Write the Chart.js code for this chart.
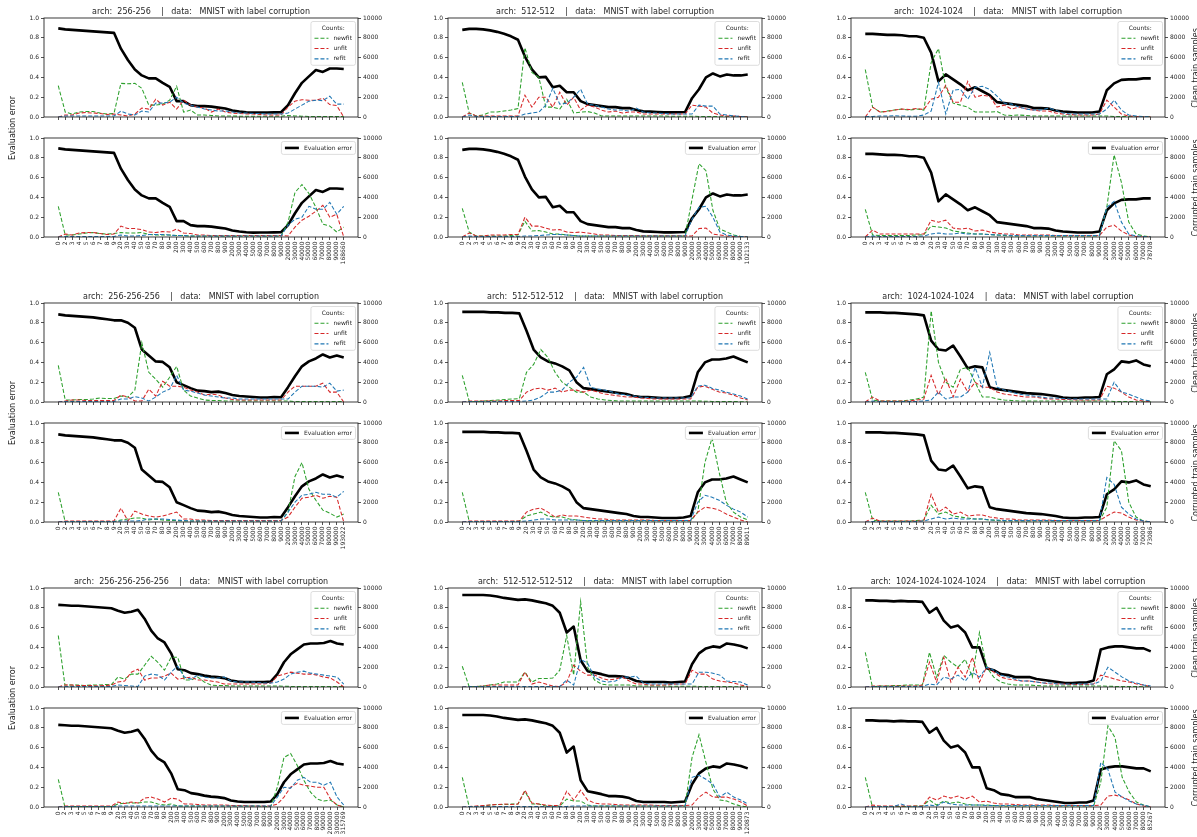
<!DOCTYPE html>
<html>
<head>
<meta charset="utf-8">
<script src="https://cdn.jsdelivr.net/npm/chart.js@4.4.0/dist/chart.umd.min.js"></script>
<style>
  html, body { margin: 0; padding: 0; background: #fff; width: 1197px; height: 837px; overflow: hidden; }
  #fig { position: relative; width: 1197px; height: 837px; overflow: hidden; background: #fff; }
  .sub { position: absolute; }
  .ylab { position: absolute; width: 200px; height: 10px; line-height: 10px; font: 8px "DejaVu Sans"; color: #222;
          text-align: center; white-space: pre; transform: rotate(-90deg); transform-origin: 50% 50%; }
</style>
</head>
<body>
<div id="fig"></div>
<script>
// ---- training-step tick labels (one list per architecture) ----
const steps256x2  = [0,2,3,4,5,6,7,8,9, 20,30,40,50,60,70,80,90, 200,300,400,500,600,700,800,900, 2000,3000,4000,5000,6000,7000,8000,9000, 20000,30000,40000,50000,60000,70000,80000,90000, 168660];
const steps512x2  = [0,2,3,4,5,6,7,8,9, 20,30,40,50,60,70,80,90, 200,300,400,500,600,700,800,900, 2000,3000,4000,5000,6000,7000,8000,9000, 20000,30000,40000,50000,60000,70000,80000,90000, 102133];
const steps1024x2 = [0,2,3,4,5,6,7,8,9, 20,30,40,50,60,70,80,90, 200,300,400,500,600,700,800,900, 2000,3000,4000,5000,6000,7000,8000,9000, 20000,30000,40000,50000,60000,70000, 78708];
const steps256x3  = [0,2,3,4,5,6,7,8,9, 20,30,40,50,60,70,80,90, 200,300,400,500,600,700,800,900, 2000,3000,4000,5000,6000,7000,8000,9000, 20000,30000,40000,50000,60000,70000,80000,90000, 193022];
const steps512x3  = [0,2,3,4,5,6,7,8,9, 20,30,40,50,60,70,80,90, 200,300,400,500,600,700,800,900, 2000,3000,4000,5000,6000,7000,8000,9000, 20000,30000,40000,50000,60000,70000,80000, 89011];
const steps1024x3 = [0,2,3,4,5,6,7,8,9, 20,30,40,50,60,70,80,90, 200,300,400,500,600,700,800,900, 2000,3000,4000,5000,6000,7000,8000,9000, 20000,30000,40000,50000,60000,70000, 73086];
const steps256x4  = [0,2,3,4,5,6,7,8,9, 20,30,40,50,60,70,80,90, 200,300,400,500,600,700,800,900, 2000,3000,4000,5000,6000,7000,8000,9000, 20000,30000,40000,50000,60000,70000,80000,90000, 200000,300000,315769];
const steps512x4  = [0,2,3,4,5,6,7,8,9, 20,30,40,50,60,70,80,90, 200,300,400,500,600,700,800,900, 2000,3000,4000,5000,6000,7000,8000,9000, 20000,30000,40000,50000,60000,70000,80000,90000, 120873];
const steps1024x4 = [0,2,3,4,5,6,7,8,9, 20,30,40,50,60,70,80,90, 200,300,400,500,600,700,800,900, 2000,3000,4000,5000,6000,7000,8000,9000, 20000,30000,40000,50000,60000,70000,80000, 85267];

// ---- arch 256-256 ----
const evalErr256x2     = [0.895,0.885,0.88,0.875,0.87,0.865,0.86,0.855,0.85, 0.69,0.576,0.48,0.42,0.39,0.39,0.345,0.305, 0.16,0.16,0.12,0.11,0.11,0.105,0.095,0.085, 0.065,0.055,0.048,0.044,0.045,0.045,0.047,0.048, 0.12,0.24,0.345,0.41,0.475,0.455,0.49,0.49, 0.485];
const cleanNewfit256x2 = [3160,500,300,500,550,550,400,300,350, 3400,3350,3400,2900,1200,1200,1300,1700, 3100,500,700,200,200,150,100,100, 100,80,80,80,80,80,80,80, 150,100,80,60,50,50,50,50, 50];
const cleanUnfit256x2  = [0,200,200,400,450,400,350,250,300, 200,100,300,900,800,1800,1200,1500, 800,1700,1200,1000,900,500,800,500, 400,350,300,300,250,200,200,200, 1000,1600,1750,1700,1700,1900,1250,1150, 0];
const cleanRefit256x2  = [0,100,100,100,100,100,100,100,100, 600,300,200,600,500,1400,1400,1500, 2000,1400,1200,1000,800,700,600,600, 500,400,400,350,350,300,300,300, 400,800,1200,1600,1700,1650,2100,1300, 1300];
const corrNewfit256x2  = [3100,200,200,300,400,450,350,300,350, 450,400,400,450,250,200,200,200, 150,150,100,100,100,100,100,100, 100,100,100,100,100,100,100,100, 1500,4500,5300,4400,3000,1300,1100,500, 1000];
const corrUnfit256x2   = [0,300,200,400,450,450,350,250,300, 1100,850,850,750,500,450,550,500, 800,400,350,200,200,150,150,150, 150,150,150,150,150,150,150,150, 100,1000,1700,2100,2600,3200,2000,2300, 0];
const corrRefit256x2   = [0,50,50,50,50,50,50,50,50, 200,100,100,150,250,250,250,200, 150,150,100,100,100,100,100,100, 100,100,100,100,100,100,100,100, 1200,1800,2000,3100,2800,2800,3500,2300, 3100];

// ---- arch 512-512 ----
const evalErr512x2     = [0.88,0.89,0.89,0.885,0.875,0.86,0.84,0.815,0.78, 0.61,0.48,0.40,0.405,0.30,0.315,0.25,0.25, 0.16,0.13,0.12,0.11,0.10,0.10,0.09,0.09, 0.07,0.057,0.054,0.05,0.047,0.047,0.048,0.05, 0.19,0.28,0.40,0.44,0.41,0.43,0.42,0.42, 0.43];
const cleanNewfit512x2 = [3500,400,100,200,500,500,600,700,850, 7000,4500,4000,1000,1000,800,1800,400, 500,550,400,100,100,100,100,100, 100,100,100,100,100,80,80,80, 80,60,50,50,30,30,20,20, 20];
const cleanUnfit512x2  = [0,400,100,100,100,100,100,100,100, 2200,1000,2000,2000,1000,2500,1200,2000, 700,1200,1000,700,500,600,400,500, 500,300,300,300,300,300,300,300, 1200,1100,1000,400,200,100,100,50, 0];
const cleanRefit512x2  = [0,200,50,50,50,50,50,50,50, 300,400,500,1200,2900,1300,1400,2000, 2800,1300,1200,1000,800,700,700,600, 900,500,400,400,350,300,300,300, 300,1200,1100,1100,300,200,100,50, 0];
const corrNewfit512x2  = [2900,500,100,100,100,100,100,150,200, 1600,600,650,500,300,300,200,150, 100,100,100,100,100,100,100,100, 100,100,100,100,100,100,100,100, 3800,7400,6700,2700,800,500,200,50, 0];
const corrUnfit512x2   = [0,400,100,100,200,200,200,250,250, 2000,1100,1100,900,700,750,500,450, 500,400,300,200,200,150,150,150, 150,120,120,120,120,120,120,120, 100,850,900,300,200,100,50,0, 0];
const corrRefit512x2   = [0,100,50,50,50,50,50,50,50, 100,100,150,200,250,250,200,150, 100,100,100,100,100,100,100,100, 100,100,100,100,100,100,100,100, 1800,3000,3100,2000,500,200,100,50, 0];

// ---- arch 1024-1024 ----
const evalErr1024x2     = [0.84,0.84,0.835,0.83,0.83,0.825,0.815,0.815,0.80, 0.65,0.36,0.43,0.38,0.33,0.27,0.30,0.26, 0.22,0.15,0.14,0.13,0.12,0.11,0.09,0.09, 0.085,0.065,0.055,0.05,0.045,0.045,0.045,0.055, 0.27,0.34,0.375,0.38,0.38,0.39, 0.39];
const cleanNewfit1024x2 = [4800,1000,500,600,700,800,700,800,700, 5500,6900,3000,1400,1200,1000,500,500, 500,550,200,150,200,150,100,100, 100,100,100,100,100,100,100,100, 100,50,50,50,30,30, 20];
const cleanUnfit1024x2  = [0,1000,500,550,700,800,750,850,750, 1800,2000,3200,1500,1500,3600,2000,2200, 2100,1000,1200,800,1000,800,700,600, 600,400,300,250,200,200,200,300, 1700,1000,300,100,50,0, 0];
const cleanRefit1024x2  = [50,50,100,100,120,100,80,80,200, 600,3500,300,2700,2800,1800,3000,3100, 2800,2100,1400,1300,1000,800,700,700, 900,700,400,300,300,300,300,300, 800,1700,700,200,100,50, 0];
const corrNewfit1024x2  = [2800,200,150,150,150,150,150,200,250, 1100,1000,900,600,500,400,300,300, 250,200,150,100,100,100,100,100, 100,100,100,100,100,100,100,100, 3000,8300,5500,1500,300,100, 0];
const corrUnfit1024x2   = [0,700,300,300,300,300,300,300,300, 1700,1500,1700,900,800,900,600,700, 500,400,300,300,200,200,200,200, 200,150,150,150,150,150,150,150, 1000,1200,600,200,50,0, 0];
const corrRefit1024x2   = [0,100,50,50,50,50,50,50,100, 300,400,300,300,400,300,300,300, 250,200,200,150,150,150,150,150, 150,150,150,150,150,150,150,150, 3000,3600,1500,300,100,50, 0];

// ---- arch 256-256-256 ----
const evalErr256x3     = [0.885,0.875,0.87,0.865,0.86,0.855,0.845,0.835,0.825, 0.825,0.80,0.75,0.53,0.47,0.41,0.405,0.35, 0.20,0.17,0.14,0.115,0.11,0.10,0.105,0.09, 0.07,0.06,0.055,0.05,0.045,0.045,0.05,0.048, 0.15,0.26,0.36,0.41,0.44,0.48,0.45,0.47, 0.45];
const cleanNewfit256x3 = [3700,200,200,250,250,300,400,350,350, 600,500,1200,6000,3000,2300,1500,2500, 3600,1200,600,400,200,150,150,100, 100,100,100,100,100,100,100,100, 100,50,50,50,50,50,50,50, 50];
const cleanUnfit256x3  = [0,100,200,200,150,150,150,150,150, 700,500,100,100,1300,600,2100,1600, 1600,1500,1200,1000,700,800,700,400, 250,200,200,200,200,200,200,200, 1000,1600,1600,1600,1600,1900,1000,1000, 0];
const cleanRefit256x3  = [0,50,50,50,50,50,50,50,50, 300,300,550,400,100,500,1000,1300, 2700,1200,1100,900,700,600,500,400, 400,300,300,300,300,300,300,300, 300,1000,1600,1600,1600,1500,1900,1100, 1200];
const corrNewfit256x3  = [3000,0,50,50,50,50,50,50,50, 200,300,400,400,200,300,200,150, 150,100,100,100,100,100,100,100, 100,100,100,100,100,100,100,100, 1000,4600,6000,3300,2200,1200,900,500, 800];
const corrUnfit256x3   = [0,100,100,100,100,100,100,100,100, 1400,100,1100,800,600,500,600,800, 1000,300,300,200,200,150,150,150, 150,150,150,150,150,150,150,150, 500,1500,2400,2500,2700,2400,2600,2500, 0];
const corrRefit256x3   = [0,50,50,50,50,50,50,50,50, 100,100,100,150,300,300,300,250, 200,150,100,100,100,100,100,100, 100,100,100,100,100,100,100,100, 1000,2000,2700,2800,3000,2800,2800,2500, 3100];

// ---- arch 512-512-512 ----
const evalErr512x3     = [0.91,0.91,0.91,0.91,0.905,0.905,0.90,0.90,0.895, 0.72,0.53,0.45,0.41,0.39,0.36,0.32,0.20, 0.14,0.13,0.12,0.11,0.10,0.09,0.08,0.06, 0.05,0.05,0.045,0.04,0.04,0.04,0.045,0.06, 0.30,0.40,0.43,0.43,0.44,0.46,0.43, 0.40];
const cleanNewfit512x3 = [2700,0,50,100,150,200,250,300,350, 3000,3800,5300,4500,3000,2000,1500,1000, 1000,500,300,200,150,100,100,100, 100,100,100,100,100,100,100,100, 100,80,60,50,50,50,30, 20];
const cleanUnfit512x3  = [0,100,100,100,100,100,150,150,150, 1000,1300,1400,1200,1400,1000,1200,1200, 1000,1200,1000,800,700,600,500,500, 400,350,300,300,300,300,300,300, 1500,1600,1300,1000,900,700,400, 200];
const cleanRefit512x3  = [0,50,50,50,50,50,50,50,50, 100,200,500,1000,1000,1200,2000,2500, 3500,1500,1300,1200,1000,800,700,600, 500,450,400,400,400,400,400,400, 1600,1700,1400,1200,1000,800,600, 300];
const corrNewfit512x3  = [3000,0,50,50,50,50,50,50,100, 600,800,1000,600,500,500,300,200, 150,100,100,100,100,100,100,100, 100,100,100,100,100,100,100,100, 1000,6000,8500,5000,2000,1000,500, 200];
const corrUnfit512x3   = [0,100,100,100,100,100,100,100,100, 1000,1300,1400,1000,500,700,600,600, 500,400,300,300,200,200,200,200, 200,200,150,150,150,150,150,150, 1000,1500,1400,1200,800,500,200, 0];
const corrRefit512x3   = [0,50,50,50,50,50,50,50,50, 100,200,300,300,200,200,200,200, 150,150,150,150,150,150,150,150, 150,150,150,150,150,150,150,150, 2000,2700,2500,2200,1700,1300,1000, 500];

// ---- arch 1024-1024-1024 ----
const evalErr1024x3     = [0.905,0.905,0.905,0.90,0.90,0.895,0.89,0.885,0.875, 0.62,0.53,0.52,0.57,0.46,0.34,0.36,0.35, 0.15,0.13,0.12,0.11,0.10,0.09,0.085,0.08, 0.07,0.06,0.045,0.04,0.04,0.045,0.045,0.05, 0.28,0.33,0.41,0.40,0.42,0.38, 0.36];
const cleanNewfit1024x3 = [3000,200,100,100,100,100,200,300,500, 9200,4000,2000,1500,3300,3500,2000,500, 500,300,200,150,100,100,100,100, 100,100,100,100,100,100,100,100, 100,50,50,50,30,30, 20];
const cleanUnfit1024x3  = [0,500,100,100,100,100,100,200,300, 2700,700,2400,500,2300,1000,2000,1500, 1500,1000,800,700,600,500,500,400, 300,300,250,250,200,200,200,200, 1600,1400,1000,500,200,100, 0];
const cleanRefit1024x3  = [0,100,50,50,50,50,50,50,100, 200,1000,300,500,500,1000,3500,1500, 5000,1500,1200,1000,800,700,600,500, 400,400,350,300,300,300,300,300, 300,2000,1000,800,500,200, 100];
const corrNewfit1024x3  = [3000,200,100,100,100,100,100,150,200, 1700,800,1000,600,500,400,300,300, 200,150,100,100,100,100,100,100, 100,100,100,100,100,100,100,100, 1500,8200,7200,2000,500,100, 0];
const corrUnfit1024x3   = [0,400,100,100,100,100,100,100,150, 2800,1000,1500,800,1000,600,700,700, 500,400,300,300,200,200,200,200, 200,150,150,150,150,150,150,150, 600,1000,900,500,200,100, 0];
const corrRefit1024x3   = [0,50,50,50,50,50,50,50,100, 300,500,300,400,300,300,300,300, 200,200,150,150,150,150,150,150, 150,150,150,150,150,150,150,150, 4500,3800,1500,800,300,100, 0];

// ---- arch 256-256-256-256 ----
const evalErr256x4     = [0.83,0.825,0.82,0.82,0.815,0.81,0.805,0.80,0.795, 0.77,0.75,0.76,0.78,0.69,0.57,0.49,0.45, 0.34,0.18,0.17,0.14,0.13,0.115,0.105,0.10, 0.09,0.065,0.055,0.05,0.05,0.05,0.05,0.055, 0.13,0.25,0.33,0.38,0.43,0.44,0.44,0.445, 0.465,0.44,0.43];
const cleanNewfit256x4 = [5200,200,200,200,150,200,200,250,250, 1000,800,1300,1300,2200,3100,2500,1700, 3000,3000,700,700,1000,500,200,150, 150,100,100,100,100,100,100,100, 100,80,60,50,50,50,50,50, 50,50,50];
const cleanUnfit256x4  = [0,200,200,150,150,150,100,150,200, 500,600,1500,1800,700,900,900,1100, 1400,800,900,1000,700,700,600,500, 300,300,300,300,300,300,300,400, 1100,1300,1500,1400,1300,1300,1200,1000, 900,500,0];
const cleanRefit256x4  = [0,50,50,50,50,50,50,50,50, 200,150,100,50,1100,1300,1200,700, 1500,2100,1000,800,1200,1000,900,900, 1000,600,500,500,500,450,400,400, 500,800,1300,1500,1600,1400,1300,1200, 1100,1000,300];
const corrNewfit256x4  = [2800,0,50,50,50,50,50,50,50, 300,400,400,400,500,500,300,200, 300,100,100,100,100,100,100,100, 100,100,100,100,100,100,50,50, 2000,5000,5400,4200,2700,1500,800,600, 700,200,0];
const corrUnfit256x4   = [0,100,100,100,100,100,100,100,100, 500,350,500,400,900,1000,800,500, 900,800,300,300,250,200,200,200, 200,150,150,150,100,100,100,100, 300,1000,2000,2400,2200,2100,2000,2000, 800,200,0];
const corrRefit256x4   = [0,50,50,50,50,50,50,50,50, 100,100,100,100,100,100,100,100, 100,100,100,100,100,100,100,100, 100,100,100,100,100,100,100,100, 1000,2000,1900,2700,3000,2500,2500,2200, 2500,1000,200];

// ---- arch 512-512-512-512 ----
const evalErr512x4     = [0.93,0.93,0.93,0.93,0.925,0.915,0.90,0.89,0.88, 0.885,0.875,0.86,0.845,0.82,0.75,0.55,0.61, 0.27,0.16,0.145,0.13,0.11,0.11,0.105,0.09, 0.06,0.05,0.05,0.05,0.05,0.045,0.05,0.055, 0.23,0.34,0.39,0.41,0.40,0.44,0.43,0.415, 0.39];
const cleanNewfit512x4 = [2100,0,50,100,200,300,500,500,500, 1500,500,850,850,900,1700,5200,1200, 8600,2000,700,300,200,200,200,200, 100,100,100,100,100,80,80,80, 80,60,50,50,50,50,30,30, 20];
const cleanUnfit512x4  = [0,50,50,100,200,200,200,200,200, 1500,300,500,300,100,50,500,2200, 1600,1200,1200,900,700,800,1000,600, 300,300,200,200,200,250,300,300, 1700,1300,1300,800,600,500,400,200, 50];
const cleanRefit512x4  = [0,50,50,50,50,50,50,50,50, 50,50,50,50,50,50,700,200, 2800,2400,1000,600,500,600,1000,1000, 1100,400,300,300,300,300,300,300, 300,1500,1500,1400,1200,600,550,500, 200];
const corrNewfit512x4  = [3000,0,50,100,200,250,250,300,300, 1600,300,300,100,100,100,800,600, 600,200,100,100,100,100,100,100, 100,100,100,100,100,100,100,100, 5000,7300,4500,1800,700,600,300,100, 0];
const corrUnfit512x4   = [0,50,100,150,200,250,300,250,300, 1700,400,300,200,150,150,1600,700, 1700,700,400,300,300,250,200,200, 200,200,200,150,150,150,150,150, 200,1000,1500,1000,1000,1000,800,500, 100];
const corrRefit512x4   = [0,50,50,50,50,50,50,50,50, 50,50,50,50,50,50,50,100, 100,100,100,100,100,100,100,100, 100,100,100,100,100,100,100,100, 3000,3200,2800,2300,1000,1500,1000,700, 300];

// ---- arch 1024-1024-1024-1024 ----
const evalErr1024x4     = [0.875,0.875,0.87,0.87,0.865,0.87,0.865,0.865,0.86, 0.75,0.80,0.67,0.60,0.62,0.55,0.40,0.40, 0.19,0.17,0.13,0.12,0.10,0.10,0.10,0.08, 0.07,0.06,0.05,0.04,0.04,0.045,0.045,0.065, 0.38,0.40,0.41,0.41,0.40,0.39,0.39, 0.36];
const cleanNewfit1024x4 = [3500,0,100,100,150,150,200,200,200, 3500,1000,3200,2500,2000,2800,1000,5500, 2000,1000,500,300,200,200,200,150, 100,100,100,100,100,100,100,100, 100,80,60,50,50,40,30, 20];
const cleanUnfit1024x4  = [0,100,100,100,100,100,100,100,200, 2500,500,3000,500,2000,1000,3000,500, 2000,1500,1000,800,700,600,600,500, 400,300,300,300,250,250,250,300, 1200,1000,800,600,500,300,200, 50];
const cleanRefit1024x4  = [0,50,50,50,50,50,50,50,50, 300,200,1000,800,1200,600,1500,1000, 2000,1700,1200,1000,800,600,600,500, 400,400,300,300,300,300,300,300, 600,2000,1500,1000,600,400,200, 100];
const corrNewfit1024x4  = [3000,0,50,50,50,50,50,100,100, 700,200,600,400,500,300,200,200, 200,150,100,100,100,100,100,100, 100,100,100,100,100,100,100,100, 2500,8200,7000,3000,1500,500,200, 0];
const corrUnfit1024x4   = [0,200,100,100,100,100,100,100,100, 1000,700,1100,900,1100,800,1100,500, 600,400,300,300,250,200,200,200, 200,200,150,150,150,150,150,150, 200,1100,1200,1000,700,300,100, 0];
const corrRefit1024x4   = [0,50,50,50,50,300,50,50,50, 200,100,500,300,200,200,200,200, 150,150,150,150,150,150,150,150, 150,150,150,150,150,150,150,150, 4500,3800,1500,1000,600,300,200, 0];

// ---- figure grid ----
const panels = [
  { arch: '256-256',             steps: steps256x2,  evalErr: evalErr256x2,  clean: [cleanNewfit256x2, cleanUnfit256x2, cleanRefit256x2],    corr: [corrNewfit256x2, corrUnfit256x2, corrRefit256x2] },
  { arch: '512-512',             steps: steps512x2,  evalErr: evalErr512x2,  clean: [cleanNewfit512x2, cleanUnfit512x2, cleanRefit512x2],    corr: [corrNewfit512x2, corrUnfit512x2, corrRefit512x2] },
  { arch: '1024-1024',           steps: steps1024x2, evalErr: evalErr1024x2, clean: [cleanNewfit1024x2, cleanUnfit1024x2, cleanRefit1024x2], corr: [corrNewfit1024x2, corrUnfit1024x2, corrRefit1024x2] },
  { arch: '256-256-256',         steps: steps256x3,  evalErr: evalErr256x3,  clean: [cleanNewfit256x3, cleanUnfit256x3, cleanRefit256x3],    corr: [corrNewfit256x3, corrUnfit256x3, corrRefit256x3] },
  { arch: '512-512-512',         steps: steps512x3,  evalErr: evalErr512x3,  clean: [cleanNewfit512x3, cleanUnfit512x3, cleanRefit512x3],    corr: [corrNewfit512x3, corrUnfit512x3, corrRefit512x3] },
  { arch: '1024-1024-1024',      steps: steps1024x3, evalErr: evalErr1024x3, clean: [cleanNewfit1024x3, cleanUnfit1024x3, cleanRefit1024x3], corr: [corrNewfit1024x3, corrUnfit1024x3, corrRefit1024x3] },
  { arch: '256-256-256-256',     steps: steps256x4,  evalErr: evalErr256x4,  clean: [cleanNewfit256x4, cleanUnfit256x4, cleanRefit256x4],    corr: [corrNewfit256x4, corrUnfit256x4, corrRefit256x4] },
  { arch: '512-512-512-512',     steps: steps512x4,  evalErr: evalErr512x4,  clean: [cleanNewfit512x4, cleanUnfit512x4, cleanRefit512x4],    corr: [corrNewfit512x4, corrUnfit512x4, corrRefit512x4] },
  { arch: '1024-1024-1024-1024', steps: steps1024x4, evalErr: evalErr1024x4, clean: [cleanNewfit1024x4, cleanUnfit1024x4, cleanRefit1024x4], corr: [corrNewfit1024x4, corrUnfit1024x4, corrRefit1024x4] },
];

const countNames  = ['newfit', 'unfit', 'refit'];
const countColors = ['#2ca02c', '#d62728', '#1f77b4'];

// ---- layout (px) ----
const FONT = 'DejaVu Sans';
const TICK_PX = 6;
const INK = '#262626';
const colLeft = [44, 448, 851];
const rowTop  = [18, 303, 588];
const PLOT_W = 314, PLOT_H = 99, PAIR_STEP = 120;
const AX_L = 40, AX_R = 40;
const TOP_PAD = 18, TOP_XH = 6;   // upper subplot: title strip, bare tick strip
const BOT_PAD = 6,  BOT_XH = 40;  // lower subplot: small top pad, rotated step labels

// frame (all four spines) around the plot area
const framePlugin = {
  id: 'frame',
  afterDatasetsDraw(chart) {
    const a = chart.chartArea, ctx = chart.ctx;
    ctx.save();
    ctx.strokeStyle = INK;
    ctx.lineWidth = 0.9;
    ctx.strokeRect(a.left, a.top, a.right - a.left, a.bottom - a.top);
    ctx.restore();
  }
};

// legend box drawn inside the upper-right corner of the plot area
const cornerLegend = {
  id: 'cornerLegend',
  afterDatasetsDraw(chart, args, opts) {
    const items = chart.data.datasets.filter(d => d.inLegend);
    if (!items.length) return;
    const ctx = chart.ctx, a = chart.chartArea;
    ctx.save();
    ctx.font = `${TICK_PX}px "${FONT}"`;
    const padX = 3.5, sampleW = 14, gap = 5, rowH = 10.3;
    let textW = Math.max(...items.map(d => ctx.measureText(d.label).width));
    const titleW = opts.title ? ctx.measureText(opts.title).width : 0;
    let w = padX + sampleW + gap + textW + padX;
    w = Math.max(w, titleW + 2 * padX);
    const nRows = items.length + (opts.title ? 1 : 0);
    const h = nRows * rowH + 2.6;
    const x0 = a.right - 2.5 - w, y0 = a.top + 3.5;
    ctx.beginPath();
    ctx.roundRect(x0, y0, w, h, 2);
    ctx.fillStyle = 'rgba(255,255,255,0.85)';
    ctx.fill();
    ctx.strokeStyle = '#d4d4d4';
    ctx.lineWidth = 0.8;
    ctx.stroke();
    ctx.textBaseline = 'middle';
    ctx.fillStyle = INK;
    let cy = y0 + 1.3 + rowH / 2;
    if (opts.title) {
      ctx.textAlign = 'center';
      ctx.fillText(opts.title, x0 + w / 2, cy);
      cy += rowH;
    }
    ctx.textAlign = 'left';
    items.forEach(d => {
      ctx.save();
      ctx.strokeStyle = d.borderColor;
      ctx.lineWidth = d.borderWidth;
      ctx.setLineDash(d.borderDash || []);
      ctx.beginPath();
      ctx.moveTo(x0 + padX, cy);
      ctx.lineTo(x0 + padX + sampleW, cy);
      ctx.stroke();
      ctx.restore();
      ctx.fillStyle = INK;
      ctx.fillText(d.label, x0 + padX + sampleW + gap, cy);
      cy += rowH;
    });
    ctx.restore();
  }
};

function makeSubplot(panel, counts, isUpper, plotLeft, plotTop) {
  const n = panel.steps.length;
  const padTop = isUpper ? TOP_PAD : BOT_PAD;
  const xh = isUpper ? TOP_XH : BOT_XH;
  const w = AX_L + PLOT_W + AX_R, h = padTop + PLOT_H + xh;
  const holder = document.createElement('div');
  holder.className = 'sub';
  holder.style.left = (plotLeft - AX_L) + 'px';
  holder.style.top = (plotTop - padTop) + 'px';
  holder.style.width = w + 'px';
  holder.style.height = h + 'px';
  const cv = document.createElement('canvas');
  cv.width = w; cv.height = h;
  cv.style.width = w + 'px'; cv.style.height = h + 'px';
  holder.appendChild(cv);
  document.getElementById('fig').appendChild(holder);

  const tickFont = { family: FONT, size: TICK_PX };
  const datasets = counts.map((vals, k) => ({
    label: countNames[k], data: vals, yAxisID: 'y1',
    borderColor: countColors[k], borderWidth: 1.05, borderDash: [4, 2],
    pointRadius: 0, tension: 0, fill: false, order: 2 - k, inLegend: isUpper
  }));
  datasets.push({
    label: 'Evaluation error', data: panel.evalErr, yAxisID: 'y',
    borderColor: '#000', borderWidth: 2.6, pointRadius: 0, tension: 0,
    fill: false, order: 5, inLegend: !isUpper, borderCapStyle: 'butt', borderJoinStyle: 'round'
  });

  return new Chart(cv, {
    type: 'line',
    data: { labels: panel.steps.map((_, i) => i), datasets },
    plugins: [framePlugin, cornerLegend],
    options: {
      responsive: false, animation: false, devicePixelRatio: 1,
      layout: { padding: { top: isUpper ? 0 : padTop, left: 0, right: 0, bottom: 0 } },
      plugins: {
        legend: { display: false },
        tooltip: { enabled: false },
        title: {
          display: isUpper,
          text: 'arch:  ' + panel.arch + '    |   data:   MNIST with label corruption',
          font: { family: FONT, size: 8, weight: 'normal' }, color: INK,
          padding: { top: 7, bottom: 1.4 }
        },
        cornerLegend: { title: isUpper ? 'Counts:' : '' }
      },
      scales: {
        x: {
          type: 'linear', min: -0.05 * (n - 1), max: 1.05 * (n - 1),
          afterBuildTicks: s => { s.ticks = panel.steps.map((_, i) => ({ value: i })); },
          afterFit: s => { s.height = xh; },
          ticks: {
            display: !isUpper, autoSkip: false, minRotation: 90, maxRotation: 90,
            padding: 1.5, font: tickFont, color: INK,
            callback: (v, i) => String(panel.steps[i])
          },
          grid: { display: true, drawOnChartArea: false, drawTicks: true, tickLength: 3, tickWidth: 0.8, tickColor: INK },
          border: { display: false }
        },
        y: {
          position: 'left', min: 0, max: 1,
          afterFit: s => { s.width = AX_L; },
          ticks: { stepSize: 0.2, padding: 2, font: tickFont, color: INK, callback: v => Number(v).toFixed(1) },
          grid: { display: true, drawOnChartArea: false, drawTicks: true, tickLength: 3, tickWidth: 0.8, tickColor: INK },
          border: { display: false }
        },
        y1: {
          position: 'right', min: 0, max: 10000,
          afterFit: s => { s.width = AX_R; },
          ticks: { stepSize: 2000, padding: 2, font: tickFont, color: INK, callback: v => String(Math.round(v)) },
          grid: { display: true, drawOnChartArea: false, drawTicks: true, tickLength: 3, tickWidth: 0.8, tickColor: INK },
          border: { display: false }
        }
      }
    }
  });
}

function axisLabel(text, cx, cy) {
  const d = document.createElement('div');
  d.className = 'ylab';
  d.textContent = text;
  d.style.left = (cx - 100) + 'px';
  d.style.top = (cy - 5) + 'px';
  document.getElementById('fig').appendChild(d);
}

panels.forEach((p, idx) => {
  const col = idx % 3, row = Math.floor(idx / 3);
  const left = colLeft[col], top = rowTop[row];
  makeSubplot(p, p.clean, true, left, top);
  makeSubplot(p, p.corr, false, left, top + PAIR_STEP);
});

rowTop.forEach(top => {
  axisLabel('Evaluation error', 13, top + (PAIR_STEP + PLOT_H) / 2);
  axisLabel('Clean train samples', 1196, top + PLOT_H / 2);
  axisLabel('Corrupted train samples', 1196, top + PAIR_STEP + PLOT_H / 2);
});
</script>
</body>
</html>
